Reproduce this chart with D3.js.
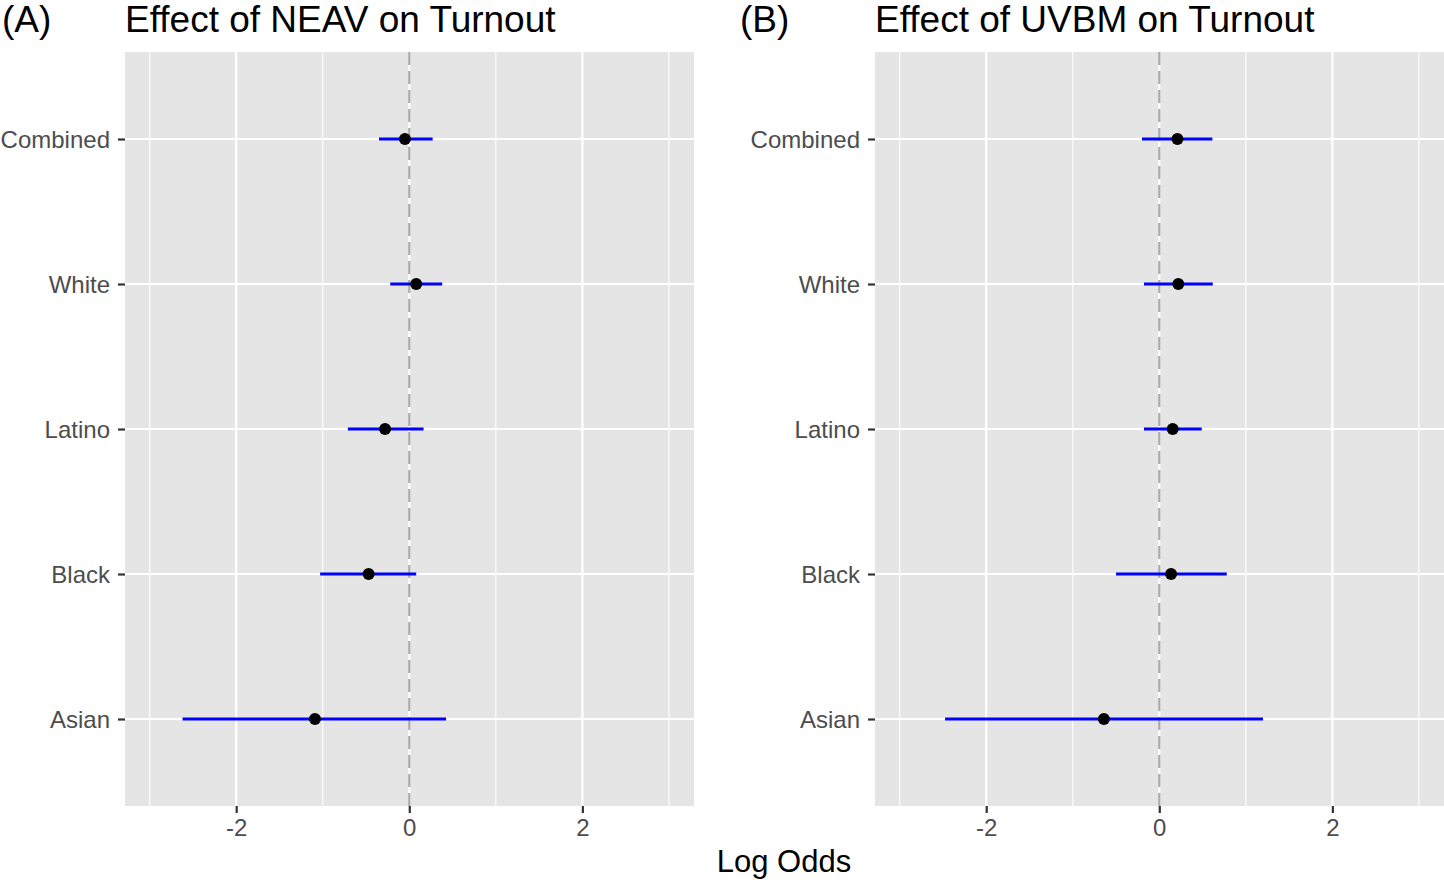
<!DOCTYPE html>
<html>
<head>
<meta charset="utf-8">
<script src="https://cdn.jsdelivr.net/npm/d3@7"></script>
<style>
body { margin: 0; background: #fff; }
text { font-family: "Liberation Sans", Arial, Helvetica, sans-serif; }
</style>
</head>
<body>
<script>
var w = 1444, h = 880;

// groups, top to bottom
var groups = ["Combined", "White", "Latino", "Black", "Asian"];
var xTicks = [-2, 0, 2];

// panel A: NEAV
var neavEst = [-0.05, 0.08, -0.28, -0.47, -1.09];
var neavLo  = [-0.35, -0.22, -0.71, -1.03, -2.62];
var neavHi  = [0.27, 0.38, 0.165, 0.08, 0.425];

// panel B: UVBM
var uvbmEst = [0.21, 0.22, 0.155, 0.136, -0.64];
var uvbmLo  = [-0.20, -0.177, -0.177, -0.50, -2.475];
var uvbmHi  = [0.614, 0.618, 0.49, 0.78, 1.198];

var svg = d3.select("body").append("svg")
	.attr("width", w)
	.attr("height", h);

var pTop = 52, pBottom = 806;

function panel(left, right, tag, tagX, title, est, lo, hi) {
	var x = d3.scaleLinear().domain([-3.285, 3.29]).range([left, right]);
	var y = d3.scalePoint().domain(groups).range([pTop, pBottom]).padding(0.6);

	var g = svg.append("g");

	g.append("rect")
		.attr("x", left).attr("y", pTop)
		.attr("width", right - left).attr("height", pBottom - pTop)
		.style("fill", "#E5E5E5");

	// minor grid
	g.selectAll(".minor").data([-3, -1, 1, 3]).enter().append("line")
		.attr("x1", function(d){ return x(d); }).attr("x2", function(d){ return x(d); })
		.attr("y1", pTop).attr("y2", pBottom)
		.style("stroke", "#fff").style("stroke-width", 1.1);

	// major grid
	g.selectAll(".majx").data(xTicks).enter().append("line")
		.attr("x1", function(d){ return x(d); }).attr("x2", function(d){ return x(d); })
		.attr("y1", pTop).attr("y2", pBottom)
		.style("stroke", "#fff").style("stroke-width", 2.2);
	g.selectAll(".majy").data(groups).enter().append("line")
		.attr("x1", left).attr("x2", right)
		.attr("y1", function(d){ return y(d); }).attr("y2", function(d){ return y(d); })
		.style("stroke", "#fff").style("stroke-width", 2.2);

	// zero line
	g.append("line")
		.attr("x1", x(0)).attr("x2", x(0))
		.attr("y1", pTop).attr("y2", pBottom)
		.style("stroke", "#AAAAAA").style("stroke-width", 2.2)
		.style("stroke-dasharray", "13,6");

	// error bars
	g.selectAll(".ci").data(groups).enter().append("line")
		.attr("x1", function(d, i){ return x(lo[i]); })
		.attr("x2", function(d, i){ return x(hi[i]); })
		.attr("y1", function(d){ return y(d); }).attr("y2", function(d){ return y(d); })
		.style("stroke", "#0000FF").style("stroke-width", 3);

	g.selectAll(".pt").data(groups).enter().append("circle")
		.attr("cx", function(d, i){ return x(est[i]); })
		.attr("cy", function(d){ return y(d); })
		.attr("r", 6)
		.style("fill", "#000");

	// y axis
	var ya = g.append("g")
		.attr("transform", "translate(" + left + ",0)")
		.call(d3.axisLeft(y).tickSize(7).tickPadding(8));
	ya.select(".domain").remove();
	ya.selectAll("line").style("stroke", "#333").style("stroke-width", 2.2);
	ya.selectAll("text").style("font-size", "24px").style("fill", "#4D4D4D")
		.attr("dy", "0.36em");

	// x axis
	var xa = g.append("g")
		.attr("transform", "translate(0," + pBottom + ")")
		.call(d3.axisBottom(x).tickValues(xTicks).tickFormat(function(d){ return String(d); })
			.tickSize(7).tickPadding(6));
	xa.select(".domain").remove();
	xa.selectAll("line").style("stroke", "#333").style("stroke-width", 2.2);
	xa.selectAll("text").style("font-size", "24px").style("fill", "#4D4D4D");

	g.append("text")
		.attr("x", tagX).attr("y", 32)
		.style("font-size", "37px")
		.text(tag);
	g.append("text")
		.attr("x", left).attr("y", 32)
		.style("font-size", "37px")
		.text(title);
}

panel(125, 694, "(A)", 2, "Effect of NEAV on Turnout", neavEst, neavLo, neavHi);
panel(875, 1444, "(B)", 740, "Effect of UVBM on Turnout", uvbmEst, uvbmLo, uvbmHi);

svg.append("text")
	.attr("x", 784).attr("y", 872)
	.attr("text-anchor", "middle")
	.style("font-size", "31px")
	.text("Log Odds");
</script>
</body>
</html>
